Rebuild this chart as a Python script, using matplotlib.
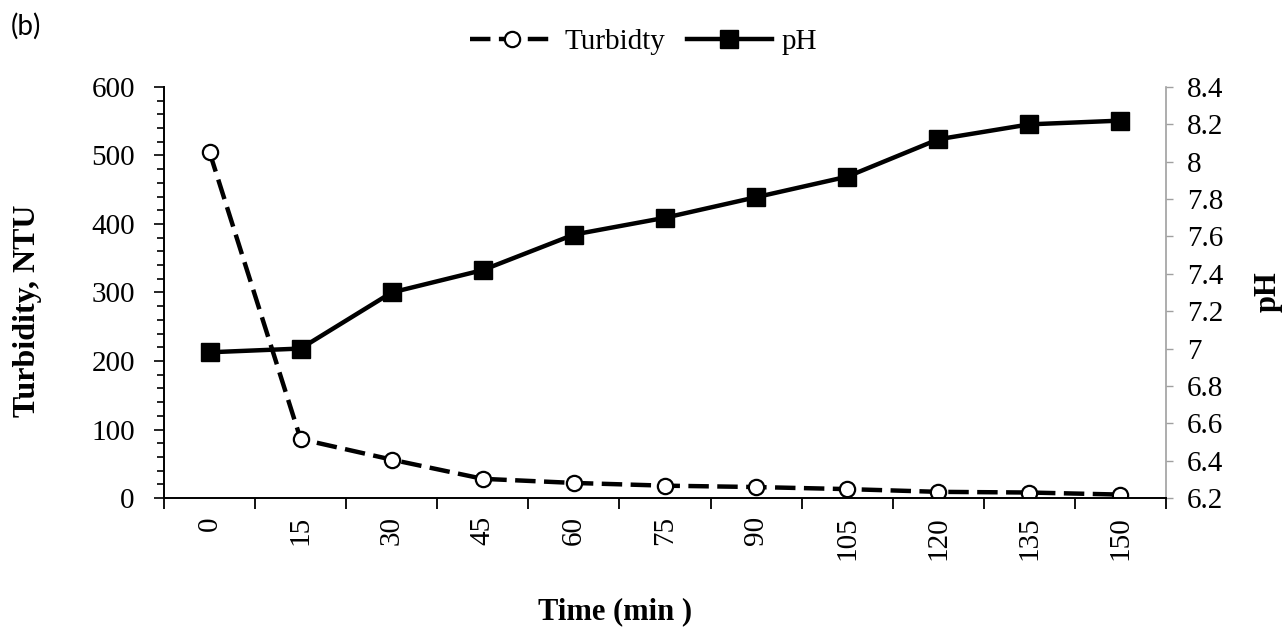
import numpy as np
import matplotlib.pyplot as plt
from matplotlib.ticker import MultipleLocator

# data
time_min = ['0', '15', '30', '45', '60', '75', '90', '105', '120', '135', '150']
turbidity = [505, 86, 56, 28, 22, 18, 16, 13, 9, 8, 5]
ph = [6.98, 7.00, 7.30, 7.42, 7.61, 7.70, 7.81, 7.92, 8.12, 8.20, 8.22]
ph_ticks = ['6.2', '6.4', '6.6', '6.8', '7', '7.2', '7.4', '7.6', '7.8', '8', '8.2', '8.4']

plt.rcParams['font.family'] = 'Liberation Serif'

fig = plt.figure(figsize=(12.87, 6.34), dpi=100)
ax = fig.add_axes([0.1274, 0.2145, 0.7786, 0.6483])
ax2 = ax.twinx()

x = np.arange(len(time_min))

l1, = ax.plot(x, turbidity, color='black', lw=3.2, linestyle=(0, (4.6, 1.9)),
              marker='o', markersize=11, markerfacecolor='white',
              markeredgecolor='black', markeredgewidth=1.6, label='Turbidty')
l2, = ax2.plot(x, ph, color='black', lw=3.2, marker='s', markersize=12.5,
               markerfacecolor='black', label='pH')
ax.set_zorder(ax2.get_zorder() + 1)
ax.patch.set_visible(False)

# x axis: categories, ticks sit between them
ax.set_xlim(-0.5, len(x) - 0.5)
ax.set_xticks(x)
ax.set_xticklabels(time_min, rotation=90, fontsize=21)
ax.set_xticks(np.arange(-0.5, len(x), 1), minor=True)
ax.tick_params(axis='x', which='major', length=0, pad=13)
ax.tick_params(axis='x', which='minor', length=8, width=1.3, direction='out')

# left axis
ax.set_ylim(0, 600)
ax.yaxis.set_major_locator(MultipleLocator(100))
ax.yaxis.set_minor_locator(MultipleLocator(20))
ax.tick_params(axis='y', which='major', labelsize=21, direction='out',
               length=7, width=1.2, pad=14)
ax.tick_params(axis='y', which='minor', direction='out', length=5, width=1.2)

# right axis
ax2.set_ylim(6.2, 8.4)
ax2.set_yticks(np.linspace(6.2, 8.4, len(ph_ticks)))
ax2.set_yticklabels(ph_ticks)
ax2.tick_params(axis='y', labelsize=21, direction='out', length=5,
                color='#a0a0a0', width=1.0, pad=10)

for a in (ax, ax2):
    a.spines['top'].set_visible(False)
ax.spines['right'].set_visible(False)
ax.spines['left'].set_linewidth(1.4)
ax.spines['bottom'].set_linewidth(1.4)
ax2.spines['left'].set_visible(False)
ax2.spines['bottom'].set_visible(False)
ax2.spines['right'].set_color('#a0a0a0')
ax2.spines['right'].set_linewidth(1.2)

# axis titles
fig.text(0.478, 0.035, 'Time (min )', fontsize=22, fontweight='bold',
         ha='center', va='center')
fig.text(0.021, 0.51, 'Turbidity, NTU', fontsize=23, fontweight='bold',
         rotation=90, ha='center', va='center')
fig.text(0.985, 0.54, 'pH', fontsize=22, fontweight='bold',
         rotation=90, ha='center', va='center')

fig.legend(handles=[l1, l2], loc='center', bbox_to_anchor=(0.5, 0.934),
           ncol=2, frameon=False, fontsize=21, handlelength=2.9,
           columnspacing=0.75, handletextpad=0.35)

fig.text(0.008, 0.958, '(b)', fontsize=20, family='Lato', va='center')

fig.savefig('out.png', dpi=100)
